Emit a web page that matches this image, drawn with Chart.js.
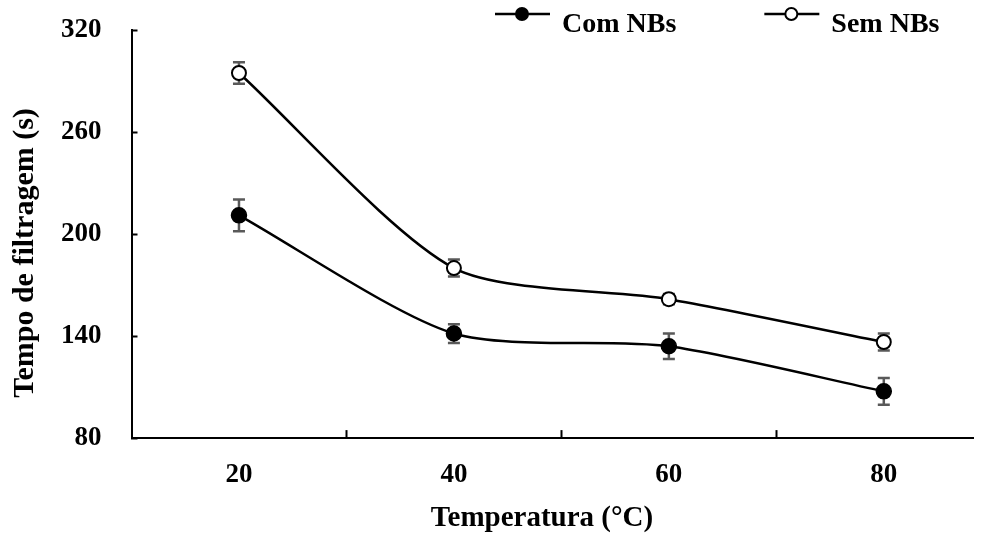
<!DOCTYPE html>
<html>
<head>
<meta charset="utf-8">
<script src="https://cdn.jsdelivr.net/npm/chart.js@4"></script>
<style>
  html, body { margin: 0; padding: 0; background: #fff; }
  #wrap { width: 982px; height: 534px; }
</style>
</head>
<body>
<div id="wrap"><canvas id="chart"></canvas></div>
<script>
// values
const temps = [20, 40, 60, 80];
const comNBs = [211, 141.5, 134, 107.5];
const comErr = [9.3, 5.5, 7.5, 7.9];
const semNBs = [294.7, 180, 161.7, 136.5];
const semErr = [6.3, 5, 3, 5];
const yTicks = [80, 140, 200, 260, 320];
const xTitle = "Temperatura (°C)";
const yTitle = "Tempo de filtragem (s)";

const FONT = "'Liberation Serif', 'Times New Roman', serif";

function points(vals) {
  return temps.map((t, i) => ({ x: t, y: vals[i] }));
}

// error bars drawn under lines and markers
const errorBars = {
  id: "errorBars",
  beforeDatasetsDraw(chart) {
    const ctx = chart.ctx;
    const xs = chart.scales.x, ys = chart.scales.y;
    ctx.save();
    ctx.strokeStyle = "#595959";
    ctx.lineWidth = 2.5;
    chart.data.datasets.forEach((ds) => {
      ds.data.forEach((p, i) => {
        const x = xs.getPixelForValue(p.x);
        const top = ys.getPixelForValue(p.y + ds.err[i]);
        const bot = ys.getPixelForValue(p.y - ds.err[i]);
        ctx.beginPath();
        ctx.moveTo(x, top); ctx.lineTo(x, bot);
        ctx.moveTo(x - 6, top); ctx.lineTo(x + 6, top);
        ctx.moveTo(x - 6, bot); ctx.lineTo(x + 6, bot);
        ctx.stroke();
      });
    });
    ctx.restore();
  }
};

// legend + axis titles
const extras = {
  id: "extras",
  afterDraw(chart) {
    const ctx = chart.ctx;
    ctx.save();
    ctx.fillStyle = "#000";
    ctx.font = "bold 28px " + FONT;

    let x0 = 495;
    chart.data.datasets.forEach((ds) => {
      ctx.strokeStyle = "#000";
      ctx.lineWidth = 2.5;
      ctx.beginPath();
      ctx.moveTo(x0, 14); ctx.lineTo(x0 + 55, 14);
      ctx.stroke();
      ctx.beginPath();
      ctx.arc(x0 + 27, 14, 6, 0, Math.PI * 2);
      ctx.fillStyle = ds.pointBackgroundColor;
      ctx.fill();
      ctx.lineWidth = 2;
      ctx.stroke();
      ctx.fillStyle = "#000";
      ctx.textAlign = "left";
      ctx.textBaseline = "alphabetic";
      ctx.fillText(ds.label, x0 + 67, 32);
      x0 += 67 + ctx.measureText(ds.label).width + 88;
    });

    ctx.textAlign = "center";
    ctx.textBaseline = "middle";
    ctx.font = "bold 29px " + FONT;
    ctx.fillText(xTitle, 542, 519);

    ctx.font = "bold 30px " + FONT;
    ctx.translate(25, 253);
    ctx.rotate(-Math.PI / 2);
    ctx.fillText(yTitle, 0, 0);
    ctx.restore();
  }
};

// let the end labels hang outside the plot area, as in the original
function noEdgePadding(scale) {
  scale.paddingTop = 0;
  scale.paddingBottom = 0;
  scale.paddingLeft = 0;
  scale.paddingRight = 0;
}

new Chart(document.getElementById("chart"), {
  type: "line",
  data: {
    datasets: [
      {
        label: "Com NBs",
        data: points(comNBs),
        err: comErr,
        borderColor: "#000",
        borderWidth: 2.5,
        pointBackgroundColor: "#000",
        pointBorderColor: "#000",
        pointBorderWidth: 1.5,
        pointRadius: 7.5,
        tension: 0.25,
      },
      {
        label: "Sem NBs",
        data: points(semNBs),
        err: semErr,
        borderColor: "#000",
        borderWidth: 2.5,
        pointBackgroundColor: "#fff",
        pointBorderColor: "#000",
        pointBorderWidth: 2,
        pointRadius: 7,
        tension: 0.25,
      },
    ],
  },
  options: {
    responsive: true,
    maintainAspectRatio: false,
    animation: false,
    layout: { padding: { left: 25, top: 30, right: 0, bottom: 14.5 } },
    plugins: { legend: { display: false }, tooltip: { enabled: false } },
    scales: {
      x: {
        type: "linear",
        min: 10,
        max: 88.3,
        afterBuildTicks(scale) {
          scale.ticks = [20, 30, 40, 50, 60, 70, 80].map((v) => ({ value: v }));
        },
        afterFit: noEdgePadding,
        ticks: {
          autoSkip: false,
          maxRotation: 0,
          padding: 28.5,
          color: "#000",
          font: { family: FONT, size: 27, weight: "bold" },
          callback: (v) => (temps.includes(v) ? v : ""),
        },
        grid: {
          drawOnChartArea: false,
          tickLength: -8,
          tickWidth: 2,
          tickColor: (c) => (c.tick && temps.includes(c.tick.value) ? "rgba(0,0,0,0)" : "#000"),
        },
        border: { display: true, color: "#000", width: 2 },
      },
      y: {
        min: 80,
        max: 320,
        afterBuildTicks(scale) {
          scale.ticks = yTicks.map((v) => ({ value: v }));
        },
        afterFit: noEdgePadding,
        ticks: {
          padding: 36,
          color: "#000",
          font: { family: FONT, size: 27, weight: "bold" },
        },
        grid: { drawOnChartArea: false, tickLength: -6, tickWidth: 2, tickColor: "#000" },
        border: { display: true, color: "#000", width: 2 },
      },
    },
  },
  plugins: [errorBars, extras],
});
</script>
</body>
</html>
